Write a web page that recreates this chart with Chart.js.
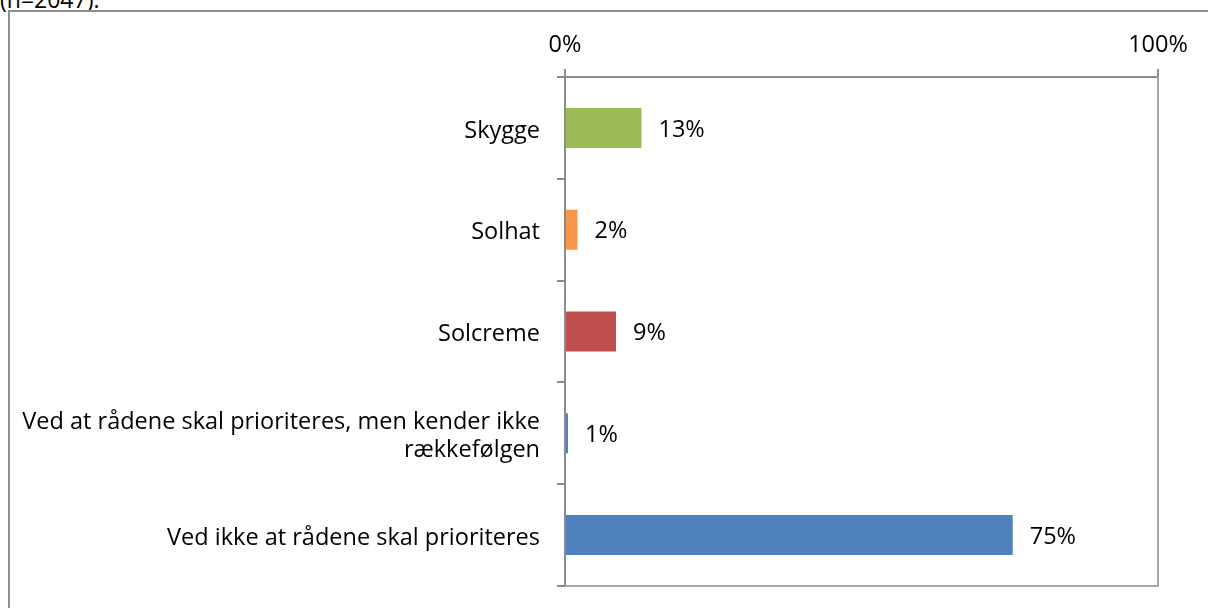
<!DOCTYPE html>
<html>
<head>
<meta charset="utf-8">
<script src="https://cdn.jsdelivr.net/npm/chart.js@4/dist/chart.umd.min.js"></script>
<style>
  html, body { margin: 0; padding: 0; width: 1208px; height: 608px; overflow: hidden; background: #fff; }
  #note { position: absolute; left: 0; top: -17px; font-family: "Open Sans", sans-serif; font-size: 23px; color: #000; white-space: nowrap; }
  #frame { position: absolute; left: 8px; top: 10px; width: 1400px; height: 800px; border: 2px solid #8f8f8f; }
  #wrap { position: absolute; left: 0; top: 0; width: 1208px; height: 608px; }
</style>
</head>
<body>
<div id="note">(n=2047).</div>
<div id="frame"></div>
<div id="wrap"><canvas id="c" width="1208" height="608"></canvas></div>
<script>
const categories = [
  'Skygge',
  'Solhat',
  'Solcreme',
  ['Ved at rådene skal prioriteres, men kender ikke', 'rækkefølgen'],
  'Ved ikke at rådene skal prioriteres'
];
const values = [12.9, 2.1, 8.6, 0.5, 75.5];
const labels = ['13%', '2%', '9%', '1%', '75%'];
const colors = ['#9BBB59', '#F79646', '#C0504D', '#4F81BD', '#4F81BD'];
const xTicks = [0, 100];

const FONT = '"Open Sans", sans-serif';
const FS = 23.5;
const AXIS = '#8c8c8c';

const boxPlugin = {
  id: 'box',
  afterDatasetsDraw(chart) {
    const a = chart.chartArea, ctx = chart.ctx;
    ctx.save();
    ctx.strokeStyle = '#a6a6a6';
    ctx.lineWidth = 2;
    ctx.beginPath();
    ctx.moveTo(a.right, a.top);
    ctx.lineTo(a.right, a.bottom);
    ctx.lineTo(a.left, a.bottom);
    ctx.stroke();
    ctx.restore();
  }
};

const labelPlugin = {
  id: 'vals',
  afterDatasetsDraw(chart) {
    const ctx = chart.ctx;
    const meta = chart.getDatasetMeta(0);
    ctx.save();
    ctx.font = FS + 'px ' + FONT;
    ctx.fillStyle = '#000';
    ctx.textAlign = 'left';
    ctx.textBaseline = 'middle';
    meta.data.forEach((bar, i) => {
      ctx.fillText(labels[i], bar.x + 17, bar.y + 2);
    });
    ctx.restore();
  }
};

new Chart(document.getElementById('c'), {
  type: 'bar',
  data: {
    labels: categories,
    datasets: [{
      data: values,
      backgroundColor: colors,
      borderWidth: 0,
      barPercentage: 0.393,
      categoryPercentage: 1
    }]
  },
  options: {
    indexAxis: 'y',
    responsive: false,
    animation: false,
    layout: { padding: { left: 0, right: 50, top: 0, bottom: 22 } },
    plugins: { legend: { display: false }, tooltip: { enabled: false } },
    scales: {
      x: {
        position: 'top',
        min: 0, max: 100,
        afterBuildTicks(s) { s.ticks = xTicks.map(v => ({ value: v })); },
        afterFit(s) { s.height = 77; s.paddingLeft = 0; s.paddingRight = 0; },
        ticks: {
          callback: v => v + '%',
          font: { family: FONT, size: FS },
          color: '#000',
          padding: 10,
          maxRotation: 0
        },
        grid: { drawOnChartArea: false, drawTicks: true, tickLength: 8, color: AXIS, lineWidth: 2 },
        border: { display: true, color: AXIS, width: 2 }
      },
      y: {
        afterFit(s) { s.width = 565; s.paddingTop = 0; s.paddingBottom = 0; },
        ticks: {
          font: { family: FONT, size: FS, lineHeight: 1.16 },
          color: '#000',
          padding: 17,
          labelOffset: 3,
          crossAlign: 'near'
        },
        grid: { offset: true, drawOnChartArea: false, drawTicks: true, tickLength: 8, color: AXIS, lineWidth: 2 },
        border: { display: true, color: AXIS, width: 2 }
      }
    }
  },
  plugins: [boxPlugin, labelPlugin]
});
</script>
</body>
</html>
